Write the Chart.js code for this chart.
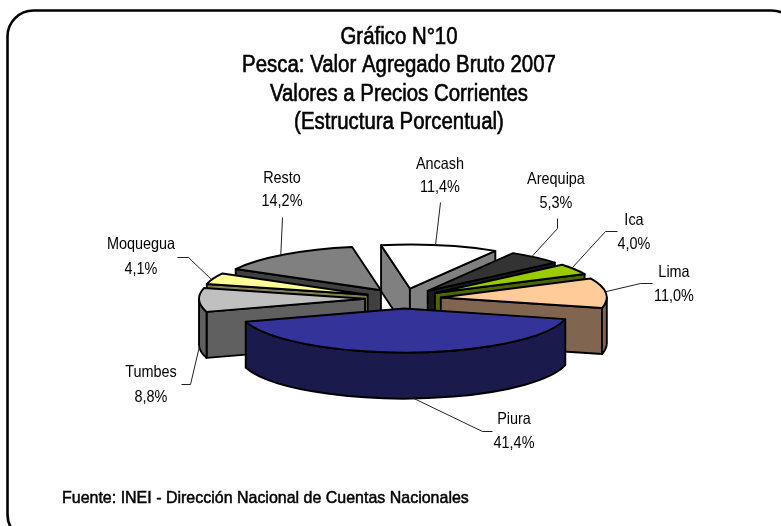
<!DOCTYPE html>
<html lang="es">
<head>
<meta charset="utf-8">
<title>Gráfico N°10</title>
<style>html,body{margin:0;padding:0;background:#fff}canvas{display:block}</style>
<script src="https://cdn.jsdelivr.net/npm/chart.js@4"></script>
</head>
<body>
<canvas id="c" width="781" height="526"></canvas>
<script>
const categories = ['Ancash','Arequipa','Ica','Lima','Piura','Tumbes','Moquegua','Resto'];
const shares = [11.4,5.3,4.0,11.0,41.4,8.8,4.1,14.2];
const topColors = ['#FFFFFF','#333333','#99CC00','#FFCC99','#333399','#C0C0C0','#FFFF99','#808080'];
const sideColors = ['#808080','#1A1A1A','#4D6600','#806650','#1A1A4D','#606060','#808050','#404040'];
const titleLines = ['Gráfico N°10','Pesca: Valor Agregado Bruto 2007','Valores a Precios Corrientes','(Estructura Porcentual)'];
const titleBaselines = [44,72,101,129];
const sourceText = 'Fuente: INEI - Dirección Nacional de Cuentas Nacionales';
// label centre x, name baseline, value baseline
const labelX = [440,556,634,674,514,151,141,282];
const labelNameY = [169,184,225,277,424,377,249,183];
const labelValueY = [192,208,249,301,448,402,274,206];
// leader line elbows, from the slice edge outward
const leaderElbows = [
  [[440,202]],
  [[557,228],[557,218]],
  [[605,231],[617,231]],
  [[640,283],[652,283]],
  [[482,431],[492,431]],
  [[190,384],[181,384]],
  [[188,257],[177,257]],
  [[282,217]]
];
const TILT = 0.265, DEPTH = 46, EXPLODE = 38, LEADER_SHIFT = -1.6 * Math.PI / 180;
const FONT = '"Liberation Sans", Arial, sans-serif';

function roundBox(ctx){
  ctx.save();
  ctx.strokeStyle = '#000'; ctx.lineWidth = 2.6;
  ctx.beginPath();
  ctx.roundRect(7.5, 10.5, 790, 530, 26);
  ctx.stroke();
  ctx.restore();
}
function squeezedText(ctx, text, x, y, sx, heavy){
  ctx.save();
  ctx.translate(x, y);
  ctx.scale(sx, 1);
  ctx.fillText(text, 0, 0);
  if (heavy) ctx.strokeText(text, 0, 0);
  ctx.restore();
}
function sliceGeom(arc){
  const mid = (arc.startAngle + arc.endAngle) / 2;
  return {
    mid, a1: arc.startAngle, a2: arc.endAngle, R: arc.outerRadius,
    ax: arc.x + Math.cos(mid) * EXPLODE,
    ay: arc.y + Math.sin(mid) * EXPLODE * TILT,
    ry: arc.outerRadius * TILT
  };
}
function cutFace(ctx, g, a, color){
  const ex = g.ax + g.R * Math.cos(a), ey = g.ay + g.ry * Math.sin(a);
  ctx.beginPath();
  ctx.moveTo(g.ax, g.ay); ctx.lineTo(ex, ey);
  ctx.lineTo(ex, ey + DEPTH); ctx.lineTo(g.ax, g.ay + DEPTH);
  ctx.closePath();
  ctx.fillStyle = color; ctx.fill(); ctx.stroke();
}
function outerWall(ctx, g, color){
  const T = Math.PI * 2;
  // visible (front) part of the rim, for any wrap of the slice
  for (let k = -1; k <= 1; k++) {
    const from = Math.max(g.a1, k * T), to = Math.min(g.a2, k * T + Math.PI);
    if (to <= from) continue;
    ctx.beginPath();
    ctx.ellipse(g.ax, g.ay, g.R, g.ry, 0, from, to);
    ctx.ellipse(g.ax, g.ay + DEPTH, g.R, g.ry, 0, to, from, true);
    ctx.closePath();
    ctx.fillStyle = color; ctx.fill(); ctx.stroke();
  }
}
const pie3d = {
  id: 'pie3d',
  beforeDraw(chart){ roundBox(chart.ctx); },
  beforeDatasetsDraw(chart){
    const ctx = chart.ctx;
    const arcs = chart.getDatasetMeta(0).data;
    const order = arcs.map((a, i) => i).sort((p, q) =>
      Math.sin((arcs[p].startAngle + arcs[p].endAngle) / 2) -
      Math.sin((arcs[q].startAngle + arcs[q].endAngle) / 2));
    ctx.save();
    ctx.strokeStyle = '#000'; ctx.lineWidth = 1.9; ctx.lineJoin = 'round';
    order.forEach(i => {
      const arc = arcs[i], g = sliceGeom(arc), side = sideColors[i];
      if (Math.cos(g.a1) < 0) cutFace(ctx, g, g.a1, side);
      if (Math.cos(g.a2) > 0) cutFace(ctx, g, g.a2, side);
      outerWall(ctx, g, side);
      // top face: the library's own arc, flattened and moved out
      ctx.save();
      ctx.translate(g.ax, g.ay);
      ctx.scale(1, TILT);
      ctx.translate(-arc.x, -arc.y);
      arc.draw(ctx);
      ctx.restore();
      ctx.beginPath();
      ctx.moveTo(g.ax, g.ay);
      ctx.ellipse(g.ax, g.ay, g.R, g.ry, 0, g.a1, g.a2);
      ctx.closePath();
      ctx.stroke();
    });
    ctx.restore();
    return false;
  },
  afterDraw(chart){
    const ctx = chart.ctx;
    const arcs = chart.getDatasetMeta(0).data;
    ctx.save();
    // leader lines
    ctx.strokeStyle = '#222'; ctx.lineWidth = 1;
    arcs.forEach((arc, i) => {
      const g = sliceGeom(arc), t = g.mid + LEADER_SHIFT;
      const sx = g.ax + g.R * Math.cos(t);
      const sy = g.ay + g.ry * Math.sin(t) + (Math.sin(t) > 0 ? DEPTH : 0);
      ctx.beginPath();
      ctx.moveTo(sx, sy);
      leaderElbows[i].forEach(p => ctx.lineTo(p[0] + .5, p[1] + .5));
      ctx.stroke();
    });
    // data labels
    ctx.fillStyle = '#000'; ctx.textAlign = 'center'; ctx.textBaseline = 'alphabetic';
    ctx.font = '16.5px ' + FONT;
    categories.forEach((name, i) => {
      squeezedText(ctx, name, labelX[i], labelNameY[i], 0.875);
      squeezedText(ctx, shares[i].toFixed(1).replace('.', ',') + '%', labelX[i], labelValueY[i], 0.875);
    });
    // title and source, with the heavy smeared look of the original
    ctx.strokeStyle = '#000'; ctx.lineWidth = 0.6;
    ctx.font = '23px ' + FONT;
    titleLines.forEach((line, i) => squeezedText(ctx, line, 399, titleBaselines[i], 0.887, true));
    ctx.textAlign = 'left';
    ctx.font = '17px ' + FONT; ctx.lineWidth = 0.5;
    squeezedText(ctx, sourceText, 62, 503, 0.94, true);
    ctx.restore();
  }
};
new Chart(document.getElementById('c'), {
  type: 'pie',
  data: {
    labels: categories,
    datasets: [{ data: shares, backgroundColor: topColors, borderWidth: 0 }]
  },
  options: {
    responsive: false,
    animation: false,
    rotation: -10,
    radius: 166,
    layout: { padding: { left: 25, top: 71 } },
    plugins: { legend: { display: false }, tooltip: { enabled: false } }
  },
  plugins: [pie3d]
});
</script>
</body>
</html>
